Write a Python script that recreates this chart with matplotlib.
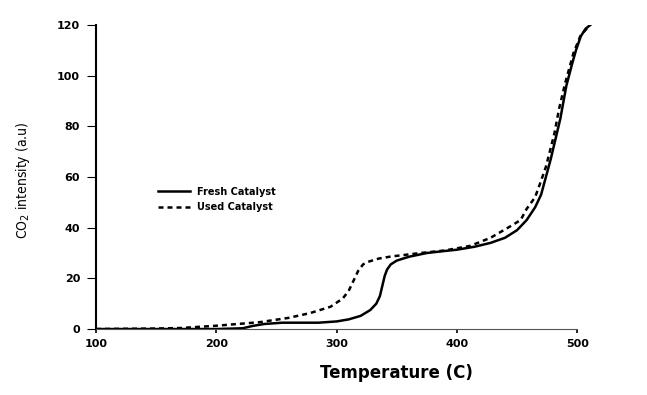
import matplotlib
matplotlib.use("Agg")
import matplotlib.pyplot as plt

# Fresh catalyst (solid line)
temp_fresh = [100, 150, 200, 222, 230, 240, 255, 270, 285, 300, 310, 320, 328, 333,
              336, 338, 340, 342, 345, 350, 360, 375, 390, 400, 415, 428, 440, 450,
              458, 465, 470, 478, 486, 491, 496, 499, 503, 507, 511]
co2_fresh = [0, 0, 0, 0.3, 1.2, 2.0, 2.5, 2.5, 2.5, 3.0, 3.8, 5.2, 7.5, 10,
             13, 17, 21, 23.5, 25.5, 27, 28.5, 30, 30.8, 31.3, 32.5, 34, 36, 39,
             43, 48, 53, 67, 83, 96, 105, 110, 115.5, 118.5, 120]

# Used catalyst (dashed line)
temp_used = [100, 150, 170, 200, 236, 260, 278, 295, 305, 310, 314, 318, 322, 326,
             335, 345, 370, 390, 411, 428, 444, 453, 458, 465, 469, 474, 481, 485,
             490, 497, 503, 510]
co2_used = [0, 0.2, 0.4, 1.3, 2.7, 4.4, 6.3, 8.8, 12, 15, 19, 23, 25.5, 26.5,
            27.8, 28.6, 30, 31, 32.8, 36, 40.4, 43, 47.4, 52, 57.2, 64, 77, 87,
            97, 109, 116, 119.5]

xticks = [100, 200, 300, 400, 500]
yticks = [0, 20, 40, 60, 80, 100, 120]

fig = plt.figure(figsize=(6.47, 3.95), dpi=100)
ax = fig.add_axes([0.1484, 0.167, 0.766, 0.770])

ax.plot(temp_fresh, co2_fresh, color="black", lw=1.8, label="Fresh Catalyst")
ax.plot(temp_used, co2_used, color="black", lw=1.8, linestyle=(0, (2, 1.6)),
        label="Used Catalyst")

ax.set_xlim(100, 512)
ax.set_ylim(0, 120)
ax.set_xticks(xticks)
ax.set_yticks(yticks)
ax.spines["top"].set_visible(False)
ax.spines["right"].set_visible(False)
ax.spines["bottom"].set_bounds(100, 500)
ax.spines["left"].set_linewidth(1.5)
ax.spines["bottom"].set_linewidth(0.8)
ax.spines["bottom"].set_color("#555555")
ax.tick_params(axis="y", length=6.5, width=0.8, labelsize=8, pad=5)
ax.tick_params(axis="x", length=3, width=1.2, labelsize=8, pad=4)
for lbl in ax.get_xticklabels() + ax.get_yticklabels():
    lbl.set_fontweight("bold")

ax.set_xlabel("Temperature (C)", fontsize=12, fontweight="bold")
ax.xaxis.set_label_coords(0.606, -0.115)
ax.set_ylabel("CO$_2$ intensity (a.u)", fontsize=10, fontstretch="condensed")
ax.yaxis.set_label_coords(-0.13, 0.49)

ax.legend(loc="center left", bbox_to_anchor=(0.23, 0.495), bbox_transform=fig.transFigure,
          frameon=False, handlelength=3.3, handletextpad=0.8,
          labelspacing=0.55, prop={"size": 7, "weight": "semibold"})

plt.savefig("out.png", dpi=100)
